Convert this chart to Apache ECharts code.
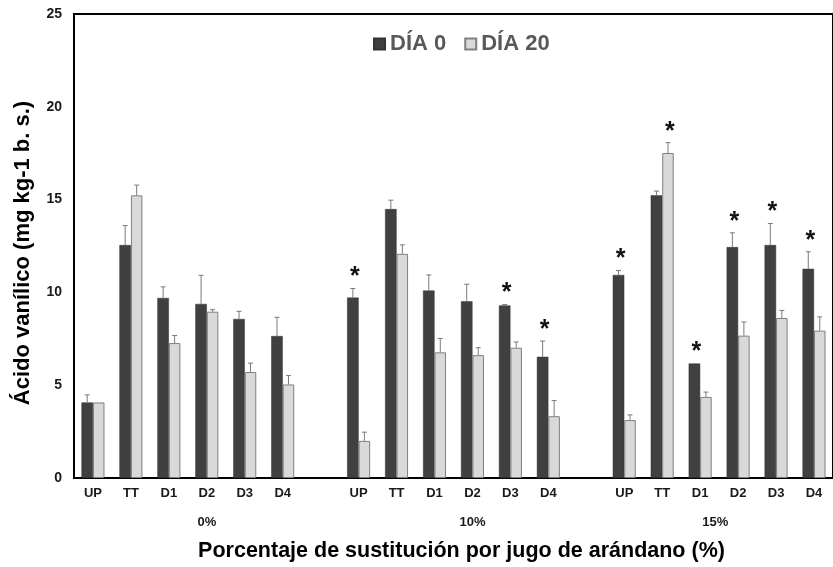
<!DOCTYPE html>
<html>
<head>
<meta charset="utf-8">
<script src="https://cdn.jsdelivr.net/npm/echarts@6/dist/echarts.min.js"></script>
<style>
  html, body { margin: 0; padding: 0; background: #fff; }
  #chart { width: 833px; height: 567px; }
</style>
</head>
<body>
<div id="chart"></div>
<script>
// Treatments per substitution level; empty entries separate the three groups
const categories = ['UP', 'TT', 'D1', 'D2', 'D3', 'D4', '',
                    'UP', 'TT', 'D1', 'D2', 'D3', 'D4', '',
                    'UP', 'TT', 'D1', 'D2', 'D3', 'D4'];
const groupNames = ['0%', '10%', '15%'];
const seriesNames = ['DÍA 0', 'DÍA 20'];
const yTicks = [0, 5, 10, 15, 20, 25];

// Vanillic acid, mg kg-1 dry basis (mean and standard deviation)
const day0 = [4.07, 12.55, 9.70, 9.38, 8.57, 7.65, null,
              9.72, 14.49, 10.10, 9.52, 9.30, 6.53, null,
              10.94, 15.23, 6.17, 12.44, 12.55, 11.27];
const day0Sd = [0.41, 1.05, 0.60, 1.54, 0.41, 1.01, null,
                0.49, 0.48, 0.84, 0.92, 0.05, 0.85, null,
                0.24, 0.23, 0.00, 0.77, 1.16, 0.92];
const day20 = [4.07, 15.23, 7.27, 8.96, 5.71, 5.04, null,
               2.00, 12.08, 6.77, 6.62, 7.02, 3.33, null,
               3.12, 17.51, 4.37, 7.67, 8.62, 7.94];
const day20Sd = [0.00, 0.55, 0.41, 0.11, 0.48, 0.48, null,
                 0.47, 0.48, 0.75, 0.40, 0.31, 0.84, null,
                 0.28, 0.56, 0.26, 0.74, 0.41, 0.74];
// Significant difference between storage days (asterisk)
const day0Sig = [0, 0, 0, 0, 0, 0, 0,
                 1, 0, 0, 0, 1, 1, 0,
                 1, 0, 1, 1, 1, 1];
const day20Sig = [0, 0, 0, 0, 0, 0, 0,
                  0, 0, 0, 0, 0, 0, 0,
                  0, 1, 0, 0, 0, 0];

const FONT = '"Liberation Sans", Arial, Helvetica, sans-serif';
const BAR_W = 11.5;
const DARK = '#404040';
const LIGHT = '#d9d9d9';

function errorData(values, sds, sig) {
  const out = [];
  values.forEach(function (v, i) {
    if (v !== null) out.push([i, v, sds[i], sig[i]]);
  });
  return out;
}

function errorSeries(values, sds, sig, side) {
  return {
    type: 'custom',
    z: 5,
    silent: true,
    data: errorData(values, sds, sig),
    encode: { x: 0, y: 1 },
    renderItem: function (params, api) {
      const i = api.value(0);
      const v = api.value(1);
      const sd = api.value(2);
      const mark = api.value(3);
      const base = api.coord([i, v]);
      const top = api.coord([i, v + sd]);
      const x = base[0] + side * BAR_W / 2;
      const children = [];
      if (sd > 0) {
        const ls = { stroke: '#7a7a7a', lineWidth: 1 };
        children.push({ type: 'line', shape: { x1: x, y1: base[1], x2: x, y2: top[1] }, style: ls });
        children.push({ type: 'line', shape: { x1: x - 2.5, y1: top[1], x2: x + 2.5, y2: top[1] }, style: ls });
      }
      if (mark) {
        children.push({
          type: 'text',
          style: {
            text: '*', x: x + 2, y: top[1] - 11,
            fill: '#111', fontSize: 25, fontWeight: 'bold', fontFamily: FONT,
            align: 'center', verticalAlign: 'middle'
          }
        });
      }
      return { type: 'group', children: children };
    }
  };
}

const chart = echarts.init(document.getElementById('chart'), null, { renderer: 'canvas' });

chart.setOption({
  animation: false,
  backgroundColor: '#fff',
  textStyle: { fontFamily: FONT },
  grid: {
    left: 74, top: 14, width: 770, height: 464,
    show: true, borderColor: '#000', borderWidth: 2, backgroundColor: 'transparent'
  },
  legend: {
    left: 373, top: 33, padding: 0,
    itemWidth: 11, itemHeight: 11, itemGap: 18,
    icon: 'rect',
    textStyle: { fontSize: 22, fontWeight: 'bold', color: '#595959', fontFamily: FONT },
    data: seriesNames
  },
  xAxis: {
    type: 'category',
    data: categories,
    axisTick: { show: false },
    axisLine: { lineStyle: { color: '#000', width: 2 } },
    axisLabel: { interval: 0, margin: 9, fontSize: 13, fontWeight: 'bold', color: '#1a1a1a', fontFamily: FONT },
    name: 'Porcentaje de sustitución por jugo de arándano (%)',
    nameLocation: 'middle',
    nameGap: 62,
    nameTextStyle: { fontSize: 21.5, fontWeight: 'bold', color: '#000', fontFamily: FONT, padding: [0, 0, 0, 16] }
  },
  yAxis: {
    type: 'value',
    min: yTicks[0], max: yTicks[yTicks.length - 1], interval: yTicks[1] - yTicks[0],
    splitLine: { show: false },
    axisTick: { show: false },
    axisLine: { show: true, lineStyle: { color: '#000', width: 2 } },
    axisLabel: { margin: 12, fontSize: 14, fontWeight: 'bold', color: '#1a1a1a', fontFamily: FONT },
    name: 'Ácido vanílico (mg kg-1 b. s.)',
    nameLocation: 'middle',
    nameGap: 40,
    nameTextStyle: { fontSize: 22, fontWeight: 'bold', color: '#000', fontFamily: FONT, padding: [0, 14, 0, 0] }
  },
  series: [
    {
      name: seriesNames[0], type: 'bar', data: day0,
      barWidth: BAR_W, barGap: '0%',
      itemStyle: { color: DARK, borderColor: '#333', borderWidth: 0.5 }
    },
    {
      name: seriesNames[1], type: 'bar', data: day20,
      barWidth: BAR_W, barGap: '0%',
      itemStyle: { color: LIGHT, borderColor: '#7f7f7f', borderWidth: 1 }
    },
    errorSeries(day0, day0Sd, day0Sig, -1),
    errorSeries(day20, day20Sd, day20Sig, 1)
  ]
});

// Group captions under the treatment labels
const groupAnchor = [3, 10, 16.4];
const graphics = groupNames.map(function (name, k) {
  const a = groupAnchor[k];
  const lo = Math.floor(a), hi = Math.ceil(a);
  const pLo = chart.convertToPixel({ xAxisIndex: 0 }, lo);
  const pHi = chart.convertToPixel({ xAxisIndex: 0 }, hi);
  const px = pLo + (pHi - pLo) * (a - lo);
  return {
    type: 'text', x: px, y: 522,
    style: {
      text: name, fill: '#1a1a1a', fontSize: 13, fontWeight: 'bold', fontFamily: FONT,
      align: 'center', verticalAlign: 'middle'
    }
  };
});
chart.setOption({ graphic: graphics });
</script>
</body>
</html>
